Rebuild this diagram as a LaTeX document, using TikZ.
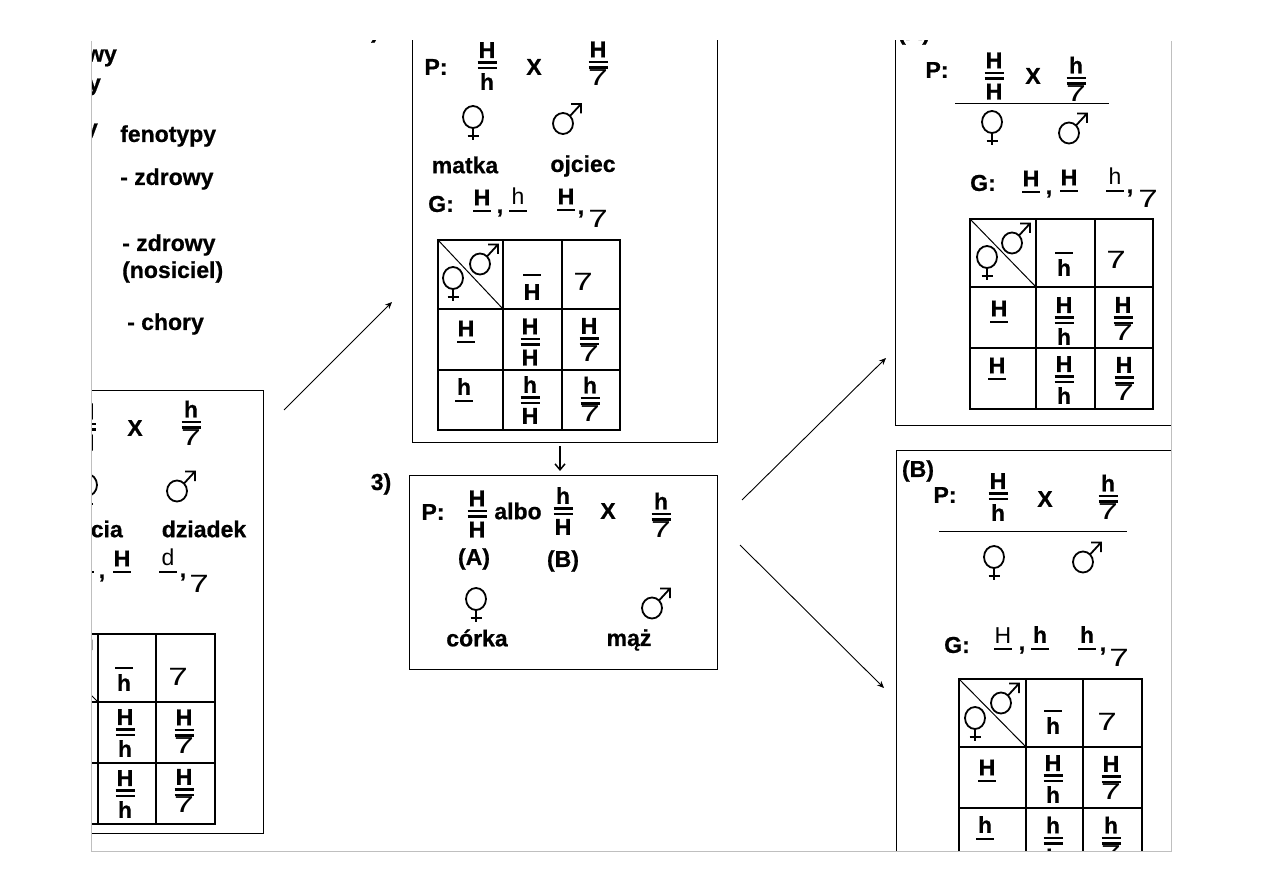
\documentclass[tikz,border=0pt]{standalone}
\usepackage{fontspec}
\setmainfont{Liberation Sans}[BoldFeatures={FakeBold=0.7}]
\usetikzlibrary{arrows.meta,positioning}

% chromosome mark, set wider than the plain digit
\newcommand{\sev}{\mbox{\fontsize{25}{25}\selectfont\mdseries\scalebox{1.4}[1.0]{7}}}
\newcommand{\sevs}{\mbox{\fontsize{23}{23}\selectfont\mdseries\scalebox{1.55}[1.0]{7}}}
% genotype: two alleles over a double bar
\newcommand{\geno}[2]{\vbox{\offinterlineskip
  \hbox to 19pt{\hss #1\hss}\kern3.5pt\hrule height 2.4pt\kern3pt\hrule height 2.4pt\kern4pt
  \hbox to 19pt{\hss #2\hss}}}
% same, with the chromosome mark below the bar
\newcommand{\genoy}[1]{\vbox{\offinterlineskip
  \hbox to 19pt{\hss #1\hss}\kern3.5pt\hrule height 2.4pt\kern3pt\hrule height 2.4pt\kern1pt
  \hbox to 19pt{\hss\sevs\hss}}}
% gamete with a bar below or above
\newcommand{\und}[1]{\vbox{\offinterlineskip\hbox to 18pt{\hss #1\hss}\kern5pt\hrule height 2pt}}
\newcommand{\ovr}[2][5pt]{\vbox{\offinterlineskip\hrule height 2pt\kern#1\hbox to 18pt{\hss #2\hss}}}
% crossing square: x0,x1,x2,x3 then y0,y1,y2,y3
\newcommand{\punnett}[8]{
  \draw[gridline] (#1,#5) rectangle (#4,#8);
  \draw[gridline] (#2,#5)--(#2,#8);
  \draw[gridline] (#3,#5)--(#3,#8);
  \draw[gridline] (#1,#6)--(#4,#6);
  \draw[gridline] (#1,#7)--(#4,#7);
  \draw[line width=1pt] (#1,#5)--(#2,#6);
}

\tikzset{
  panel/.style={draw,line width=1pt,anchor=north west,inner sep=0pt,outer sep=0pt},
  lab/.style={font=\fontsize{23}{25}\selectfont\bfseries,inner sep=0pt},
  gene/.style={font=\fontsize{23}{25}\selectfont\bfseries,inner sep=0pt},
  gridline/.style={line width=2pt},
  link/.style={-{Stealth[length=7pt,width=6pt]},line width=0.9pt},
  drop/.style={-{Straight Barb[length=6pt,width=10pt]},line width=1.5pt},
  female/.pic={
    \draw[line width=1.8pt] (0,0) ellipse (10 and 11);
    \draw[line width=1.8pt] (0,11)--(0,23) (-5.5,19)--(5.5,19);
  },
  male/.pic={
    \draw[line width=1.8pt] (0,0) ellipse (10 and 10.5);
    \draw[line width=1.8pt] (7,-7.5)--(18,-19.5) (8,-19.5)--(18,-19.5)--(18,-10);
  }
}

\begin{document}
\begin{tikzpicture}[x=1pt,y=-1pt]
\useasboundingbox (0,0) rectangle (1263,893);
\begin{scope}
\clip (91,41) rectangle (1171,851);

% phenotype list
\node[lab,anchor=east] (w1) at (117,58) {wy};
\node[lab,anchor=east] (w2) at (101,87) {y};
\node[lab,anchor=east] (w3) at (98,132) {y};
\node[lab,anchor=west] (fen) at (120,136) {fenotypy};
\node[lab,anchor=west] (f1) at (120,179) {- zdrowy};
\node[lab,anchor=west] (f2) at (122,245) {- zdrowy};
\node[lab,anchor=west] (f3) at (122,272) {(nosiciel)};
\node[lab,anchor=west] (f4) at (127,324) {- chory};
\node[lab] (n2) at (375,32) {)};

% left panel
\node[panel,minimum width=223.5pt,minimum height=442.5pt] (lbox) at (40,390.5) {};
\node[gene] (lg1) at (86,427) {\geno{H}{H}};
\node[lab] (lx) at (135,428) {X};
\node[gene] (lg2) at (191,423) {\genoy{h}};
\pic (lf) at (87,485) {female};
\pic (lm) at (177,491) {male};
\node[lab,anchor=east] (lcia) at (123,529) {cia};
\node[lab] (ldz) at (204,529) {dziadek};
\node[gene] (lu0) at (85,562) {\und{H}};
\node[gene] (lc0) at (102,578) {,};
\node[gene] (lu1) at (122,562) {\und{H}};
\node[gene] (lu2) at (168,561) {\und{\mdseries d}};
\node[gene] (lc1) at (183,577) {,};
\node[gene] (l7) at (199,584) {\sev};
\punnett{30}{98}{156}{215}{634}{702}{763}{824}
\pic (lgm) at (73.5,660) {male};
\node[gene] (lh1) at (124,679) {\ovr{h}};
\node[gene] (lh2) at (178,677) {\sev};
\node[gene] (l11) at (125,733) {\geno{H}{h}};
\node[gene] (l12) at (184,731.5) {\genoy{H}};
\node[gene] (l21) at (125,794) {\geno{H}{h}};
\node[gene] (l22) at (184,791) {\genoy{H}};

% upper middle panel
\node[panel,minimum width=304.5pt,minimum height=442.5pt] (tbox) at (412.5,0) {};
\node[lab] (tP) at (436,67) {P:};
\node[gene] (tg1) at (487,66) {\geno{H}{h}};
\node[lab] (tx) at (534,67) {X};
\node[gene] (tg2) at (598,63.5) {\genoy{H}};
\pic (tf) at (473,117) {female};
\pic (tm) at (563,123.5) {male};
\node[lab] (tmat) at (465,165) {matka};
\node[lab] (toj) at (583,166) {ojciec};
\node[lab] (tG) at (441,204) {G:};
\node[gene] (tu1) at (482,201) {\und{H}};
\node[gene] (tc1) at (500,213) {,};
\node[gene] (tu2) at (518,200) {\und{\mdseries h}};
\node[gene] (tu3) at (566,200) {\und{H}};
\node[gene] (tc2) at (581,214) {,};
\node[gene] (t7) at (598,219) {\sev};
\punnett{438}{503}{562}{620}{240}{309}{370}{430}
\pic (tgm) at (480,264) {male};
\pic (tgf) at (453,278) {female};
\node[gene] (th1) at (532,287) {\ovr[8pt]{H}};
\node[gene] (th2) at (583,282) {\sev};
\node[gene] (tr1) at (466,332) {\und{H}};
\node[gene] (tr2) at (464,390) {\und{h}};
\node[gene] (t11) at (530,342) {\geno{H}{H}};
\node[gene] (t12) at (589,340) {\genoy{H}};
\node[gene] (t21) at (530,400) {\geno{h}{H}};
\node[gene] (t22) at (590,399) {\genoy{h}};

% lower middle panel
\node[lab] (c3) at (381,484) {3)};
\node[panel,minimum width=308.5pt,minimum height=193.5pt] (cbox) at (409,475.5) {};
\node[lab] (cP) at (433,512) {P:};
\node[gene] (cg1) at (477,514) {\geno{H}{H}};
\node[lab] (calbo) at (518,511) {albo};
\node[gene] (cg2) at (563,511) {\geno{h}{H}};
\node[lab] (cx) at (608,511) {X};
\node[gene] (cg3) at (661,515) {\genoy{h}};
\node[lab] (cA) at (474,559) {(A)};
\node[lab] (cB) at (563,561) {(B)};
\pic (cf) at (476,599) {female};
\pic (cm) at (652,608) {male};
\node[lab] (ccor) at (477,638) {córka};
\node[lab] (cmaz) at (629,640) {mąż};

% panel A
\node[panel,minimum width=320pt,minimum height=425.5pt] (abox) at (895.5,0) {};
\node[lab] (aA) at (914,34) {(A)};
\node[lab] (aP) at (937,70) {P:};
\node[gene] (ag1) at (994,76) {\geno{H}{H}};
\node[lab] (ax) at (1033,76) {X};
\node[gene] (ag2) at (1076,79) {\genoy{h}};
\coordinate (aL) at (955,104);
\coordinate (aR) at (1109,104);
\draw[line width=1pt] (aL)--(aR);
\pic (af) at (992,122) {female};
\pic (am) at (1069,133) {male};
\node[lab] (aG) at (983,183) {G:};
\node[gene] (au1) at (1031,182) {\und{H}};
\node[gene] (ac1) at (1049,194) {,};
\node[gene] (au2) at (1069,181) {\und{H}};
\node[gene] (au3) at (1115,180) {\und{\mdseries h}};
\node[gene] (ac2) at (1130,193) {,};
\node[gene] (a7) at (1148,199) {\sev};
\punnett{970}{1036}{1095}{1153}{219}{287}{348}{409}
\pic (agm) at (1012,243) {male};
\pic (agf) at (987,257) {female};
\node[gene] (ah1) at (1064,264) {\ovr{h}};
\node[gene] (ah2) at (1116,260) {\sev};
\node[gene] (ar1) at (999,312) {\und{H}};
\node[gene] (ar2) at (997,369) {\und{H}};
\node[gene] (a11) at (1064,321) {\geno{H}{h}};
\node[gene] (a12) at (1123,319) {\genoy{H}};
\node[gene] (a21) at (1064,380) {\geno{H}{h}};
\node[gene] (a22) at (1124,379) {\genoy{H}};

% panel B
\node[panel,minimum width=320pt,minimum height=500pt] (bbox) at (896,450.5) {};
\node[lab] (bB) at (918,471) {(B)};
\node[lab] (bP) at (945,495) {P:};
\node[gene] (bg1) at (998,497) {\geno{H}{h}};
\node[lab] (bx) at (1045,499) {X};
\node[gene] (bg2) at (1108,497) {\genoy{h}};
\coordinate (bL) at (939,531);
\coordinate (bR) at (1127,531);
\draw[line width=1pt] (bL)--(bR);
\pic (bf) at (994,557) {female};
\pic (bm) at (1083,562) {male};
\node[lab] (bG) at (957,645) {G:};
\node[gene] (bu1) at (1003,639) {\und{\mdseries H}};
\node[gene] (bc1) at (1022,650) {,};
\node[gene] (bu2) at (1040,638) {\und{h}};
\node[gene] (bu3) at (1087,638) {\und{h}};
\node[gene] (bc2) at (1103,651) {,};
\node[gene] (b7) at (1119,658) {\sev};
\punnett{959}{1026}{1083}{1142}{679}{747}{808}{900}
\pic (bgm) at (1001,703) {male};
\pic (bgf) at (975,718) {female};
\node[gene] (bh1) at (1053,722) {\ovr{h}};
\node[gene] (bh2) at (1107,722) {\sev};
\node[gene] (br1) at (987,771) {\und{H}};
\node[gene] (br2) at (985,828) {\und{h}};
\node[gene] (b11) at (1053,779) {\geno{H}{h}};
\node[gene] (b12) at (1111,778) {\genoy{H}};
\node[gene] (b21) at (1053,841) {\geno{h}{h}};
\node[gene] (b22) at (1111,839) {\genoy{h}};

% arrows between the panels
\coordinate (s1) at (284,410);
\coordinate (e1) at (392,302);
\coordinate (s2) at (560,446);
\coordinate (e2) at (560,471);
\coordinate (s3) at (742,500);
\coordinate (e3) at (886,358);
\coordinate (s4) at (740,545);
\coordinate (e4) at (884,688);
\draw[link] (s1)--(e1);
\draw[drop] (s2)--(e2);
\draw[link] (s3)--(e3);
\draw[link] (s4)--(e4);
\end{scope}

% edge of the page
\draw[black!25,line width=1pt] (91,41)--(91,851)--(1171,851)--(1171,41);
\end{tikzpicture}
\end{document}
